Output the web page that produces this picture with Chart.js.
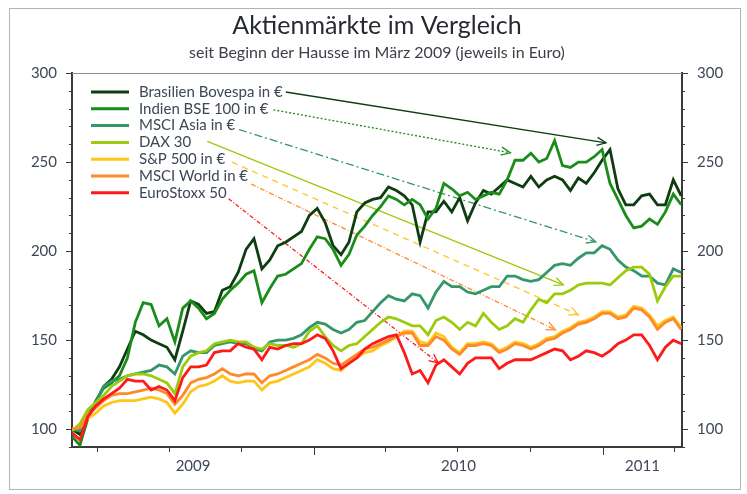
<!DOCTYPE html>
<html><head><meta charset="utf-8">
<script src="https://cdn.jsdelivr.net/npm/chart.js@4/dist/chart.umd.min.js"></script>
<style>html,body{margin:0;padding:0;background:#fff}#wrap{width:747px;height:494px;position:relative}</style>
</head><body><div id="wrap"><canvas id="c" width="747" height="494"></canvas></div>
<script>
// ---- data (days since 1 March 2009, index = 100 at start) ----
const days = [0,10,20,30,40,50,60,70,80,90,100,110,120,130,140,150,160,170,180,190,200,210,220,230,240,250,260,270,280,290,300,310,320,330,340,350,360,370,380,390,400,410,420,430,440,450,460,470,480,490,500,510,520,530,540,550,560,570,580,590,600,610,620,630,640,650,660,670,680,690,700,710,720,730,740,750,760,770];
const bovespa = [100,97,106,115,124,128,135,145,155,153,150,148,146,139,155,172,170,165,166,178,180,188,201,207,190,195,203,205,208,211,220,224,216,203,198,205,222,227,229,230,236,234,231,226,205,222,222,228,222,230,217,227,234,232,236,240,238,236,242,236,240,242,240,234,241,238,244,251,257,235,226,226,231,232,226,226,240,231];
const indien = [96,91,106,116,123,126,130,140,160,171,170,158,162,149,168,172,168,162,165,173,178,182,187,189,171,179,186,187,190,193,201,208,207,201,192,198,209,214,220,225,231,229,226,229,226,218,224,238,235,231,233,229,231,233,232,240,251,251,255,250,252,262,248,247,250,250,253,257,238,229,220,213,214,218,215,222,232,226];
const msciAsia = [100,99,108,115,124,127,128,130,131,132,133,136,135,131,141,144,143,143,147,148,149,148,148,145,144,149,150,150,151,153,157,160,159,156,154,156,160,161,166,171,175,173,172,176,175,168,177,183,180,180,177,176,178,180,180,186,186,184,183,184,188,192,193,192,196,199,199,203,201,195,191,189,186,186,182,181,190,188];
const dax = [99,103,111,115,119,124,127,130,131,131,130,128,126,120,135,141,143,144,148,149,150,149,149,146,145,148,147,147,146,148,155,158,152,147,144,147,148,152,156,160,163,162,160,158,158,153,161,163,160,156,160,158,165,160,156,158,162,160,167,173,171,176,176,178,181,182,182,182,181,185,189,191,191,187,172,180,186,186];
const sp500 = [100,101,106,109,113,115,116,116,116,117,118,117,115,109,114,121,124,125,127,130,127,126,127,127,122,126,127,129,131,133,135,139,137,134,133,137,140,143,144,147,149,152,155,155,149,148,154,152,146,143,148,148,149,148,144,146,149,148,146,148,151,152,155,157,160,161,163,166,166,163,164,169,168,164,158,161,163,157];
const msciWorld = [100,101,108,112,116,119,120,120,121,122,123,122,120,114,119,126,128,129,131,134,131,130,131,131,126,130,131,133,135,137,139,142,140,137,136,139,142,145,146,148,150,152,154,154,147,147,152,150,145,142,147,147,148,147,143,145,148,147,145,147,150,151,154,156,159,160,162,165,165,162,163,168,167,163,156,160,162,156];
const euroStoxx = [98,94,107,113,117,120,123,128,127,127,122,124,122,116,129,135,135,136,143,144,144,148,146,145,139,146,145,147,148,148,150,153,151,144,134,137,140,145,148,150,152,153,143,131,133,126,136,139,135,131,137,140,140,140,134,137,139,139,139,141,143,145,144,139,141,144,143,141,144,148,150,153,153,147,139,146,150,148];

const seriesNames = ['Brasilien Bovespa in €','Indien BSE 100 in €','MSCI Asia in €','DAX 30','S&P 500 in €','MSCI World in €','EuroStoxx 50'];
const seriesValues = [bovespa, indien, msciAsia, dax, sp500, msciWorld, euroStoxx];

// axis labels
const yTickLabels = [100,150,200,250,300];
const yearLabels = ['2009','2010','2011'];
const yearBoundaryDays = [0,306,671,771];
const quarterTickDays = [31,122,214,306,396,487,579,671,761];
const yearTickDays = [306,671];

// arrow targets (data coordinates: day, value) pointing from the legend to each line
const arrowTargetDays = [675,554,662,621,640,611,463];
const arrowTargetValues = [260.8,255.2,205.2,181,164.2,155.8,137.2];

// ---- styling ----
const colors = ['#0d3d10','#1a8c1a','#35966a','#9bcb0c','#ffc61a','#ff8a2a','#ff1a1a'];
const arrowDash = [[],[2,2],[8,3,2,3],[],[6,5],[5,2,1,2],[4,2,1,2]];
const arrowStart = [[3,0],[5,1],[4,4],[16,-1],[7,3],[3,8],[2,6]];
const FONT = 'Lato, "Open Sans", sans-serif';
const labelColor = '#3e4756';

const datasets = seriesNames.map((n,i)=>({
  label:n,
  data: days.map((d,k)=>({x:d,y:seriesValues[i][k]})),
  borderColor: colors[i], borderWidth: 2.8, pointRadius:0, tension:0,
  fill:false, order: seriesNames.length - i
}));

function yearCenters(){ const c=[]; for(let i=0;i<yearLabels.length;i++) c.push((yearBoundaryDays[i]+yearBoundaryDays[i+1])/2); return c; }

const deco = {
  id:'deco',
  beforeDraw(chart){
    const ctx = chart.ctx, ca = chart.chartArea;
    ctx.save();
    ctx.fillStyle='#fff'; ctx.fillRect(0,0,chart.width,chart.height);
    ctx.strokeStyle='#b4b4b4'; ctx.lineWidth=1; ctx.strokeRect(9.5,8.5,731,481);
    const cx = (ca.left+ca.right)/2;
    ctx.textAlign='center'; ctx.textBaseline='middle';
    ctx.fillStyle='#262a30'; ctx.font='25px '+FONT;
    ctx.fillText('Aktienmärkte im Vergleich', cx, 26);
    ctx.fillStyle='#3a3f48'; ctx.font='16px '+FONT;
    ctx.fillText('seit Beginn der Hausse im März 2009 (jeweils in Euro)', cx, 53);
    ctx.restore();
  },
  beforeDatasetsDraw(chart){
    const ctx = chart.ctx, ca = chart.chartArea, xs = chart.scales.x, ys = chart.scales.y;
    ctx.save();
    ctx.strokeStyle='#8c8c8c'; ctx.lineWidth=1;
    ctx.beginPath(); ctx.moveTo(ca.left, ca.top+0.5); ctx.lineTo(ca.right, ca.top+0.5); ctx.stroke();
    ctx.font='15px '+FONT; ctx.textBaseline='middle'; ctx.textAlign='left';
    const rowH = 16.8, y0 = ca.top + 19;
    seriesNames.forEach((n,i)=>{
      const y = y0 + i*rowH;
      ctx.strokeStyle = colors[i]; ctx.lineWidth = 3; ctx.setLineDash([]);
      ctx.beginPath(); ctx.moveTo(ca.left+19, y); ctx.lineTo(ca.left+57, y); ctx.stroke();
      ctx.fillStyle = labelColor; ctx.fillText(n, ca.left+67, y);
      const tEnd = ca.left + 67 + ctx.measureText(n).width;
      const sx = tEnd + arrowStart[i][0], sy = y + arrowStart[i][1];
      const ex = xs.getPixelForValue(arrowTargetDays[i]), ey = ys.getPixelForValue(arrowTargetValues[i]);
      ctx.strokeStyle = colors[i]; ctx.lineWidth = 1.3; ctx.setLineDash(arrowDash[i]);
      ctx.beginPath(); ctx.moveTo(sx, sy); ctx.lineTo(ex, ey); ctx.stroke();
      ctx.setLineDash([]);
      const a = Math.atan2(ey-sy, ex-sx), L = 10, w = 0.42;
      ctx.beginPath();
      ctx.moveTo(ex - L*Math.cos(a-w), ey - L*Math.sin(a-w));
      ctx.lineTo(ex, ey);
      ctx.lineTo(ex - L*Math.cos(a+w), ey - L*Math.sin(a+w));
      ctx.stroke();
    });
    ctx.restore();
  },
  afterDraw(chart){
    const ctx = chart.ctx, ca = chart.chartArea, xs = chart.scales.x, ys = chart.scales.y;
    ctx.save();
    ctx.strokeStyle='#3a3a3a'; ctx.lineWidth=1;
    for(let v=ys.min; v<=ys.max; v+=10){
      const py = Math.round(ys.getPixelForValue(v))+0.5;
      const major = yTickLabels.includes(v);
      const len = major ? 6 : 3;
      ctx.beginPath();
      ctx.moveTo(ca.left-len, py); ctx.lineTo(ca.left, py);
      ctx.moveTo(ca.right, py); ctx.lineTo(ca.right+len, py);
      ctx.stroke();
    }
    quarterTickDays.forEach(d=>{
      const px = Math.round(xs.getPixelForValue(d))+0.5;
      const len = yearTickDays.includes(d) ? 8 : 5;
      ctx.beginPath(); ctx.moveTo(px, ca.bottom); ctx.lineTo(px, ca.bottom+len); ctx.stroke();
    });
    ctx.restore();
  }
};

const tickFont = {family: FONT, size: 15};
new Chart(document.getElementById('c'), {
  type:'line',
  data:{datasets},
  plugins:[deco],
  options:{
    responsive:false, animation:false, devicePixelRatio:1, events:[],
    layout:{padding:{top:73,left:0,right:0,bottom:0}},
    plugins:{legend:{display:false}, tooltip:{enabled:false}, title:{display:false}},
    scales:{
      x:{type:'linear', min:0, max:771,
        afterFit(s){ s.height = 47; },
        afterBuildTicks(s){ s.ticks = yearCenters().map(v=>({value:v})); },
        grid:{display:false, drawTicks:false},
        border:{display:true, color:'#3a3a3a', width:2},
        ticks:{autoSkip:false, maxRotation:0, padding:10, font:tickFont, color:labelColor,
          callback:(v,i)=>yearLabels[i]}
      },
      y:{type:'linear', position:'left', min:90, max:300,
        afterFit(s){ s.width = 72; },
        afterBuildTicks(s){ s.ticks = yTickLabels.map(v=>({value:v})); },
        grid:{display:false, drawTicks:false},
        border:{display:true, color:'#3a3a3a', width:2},
        ticks:{padding:15, font:tickFont, color:labelColor}
      },
      y2:{type:'linear', position:'right', min:90, max:300, display:true,
        afterFit(s){ s.width = 65; },
        afterBuildTicks(s){ s.ticks = yTickLabels.map(v=>({value:v})); },
        grid:{display:false, drawTicks:false},
        border:{display:true, color:'#3a3a3a', width:2},
        ticks:{padding:15, font:tickFont, color:labelColor}
      }
    }
  }
});
</script></body></html>
